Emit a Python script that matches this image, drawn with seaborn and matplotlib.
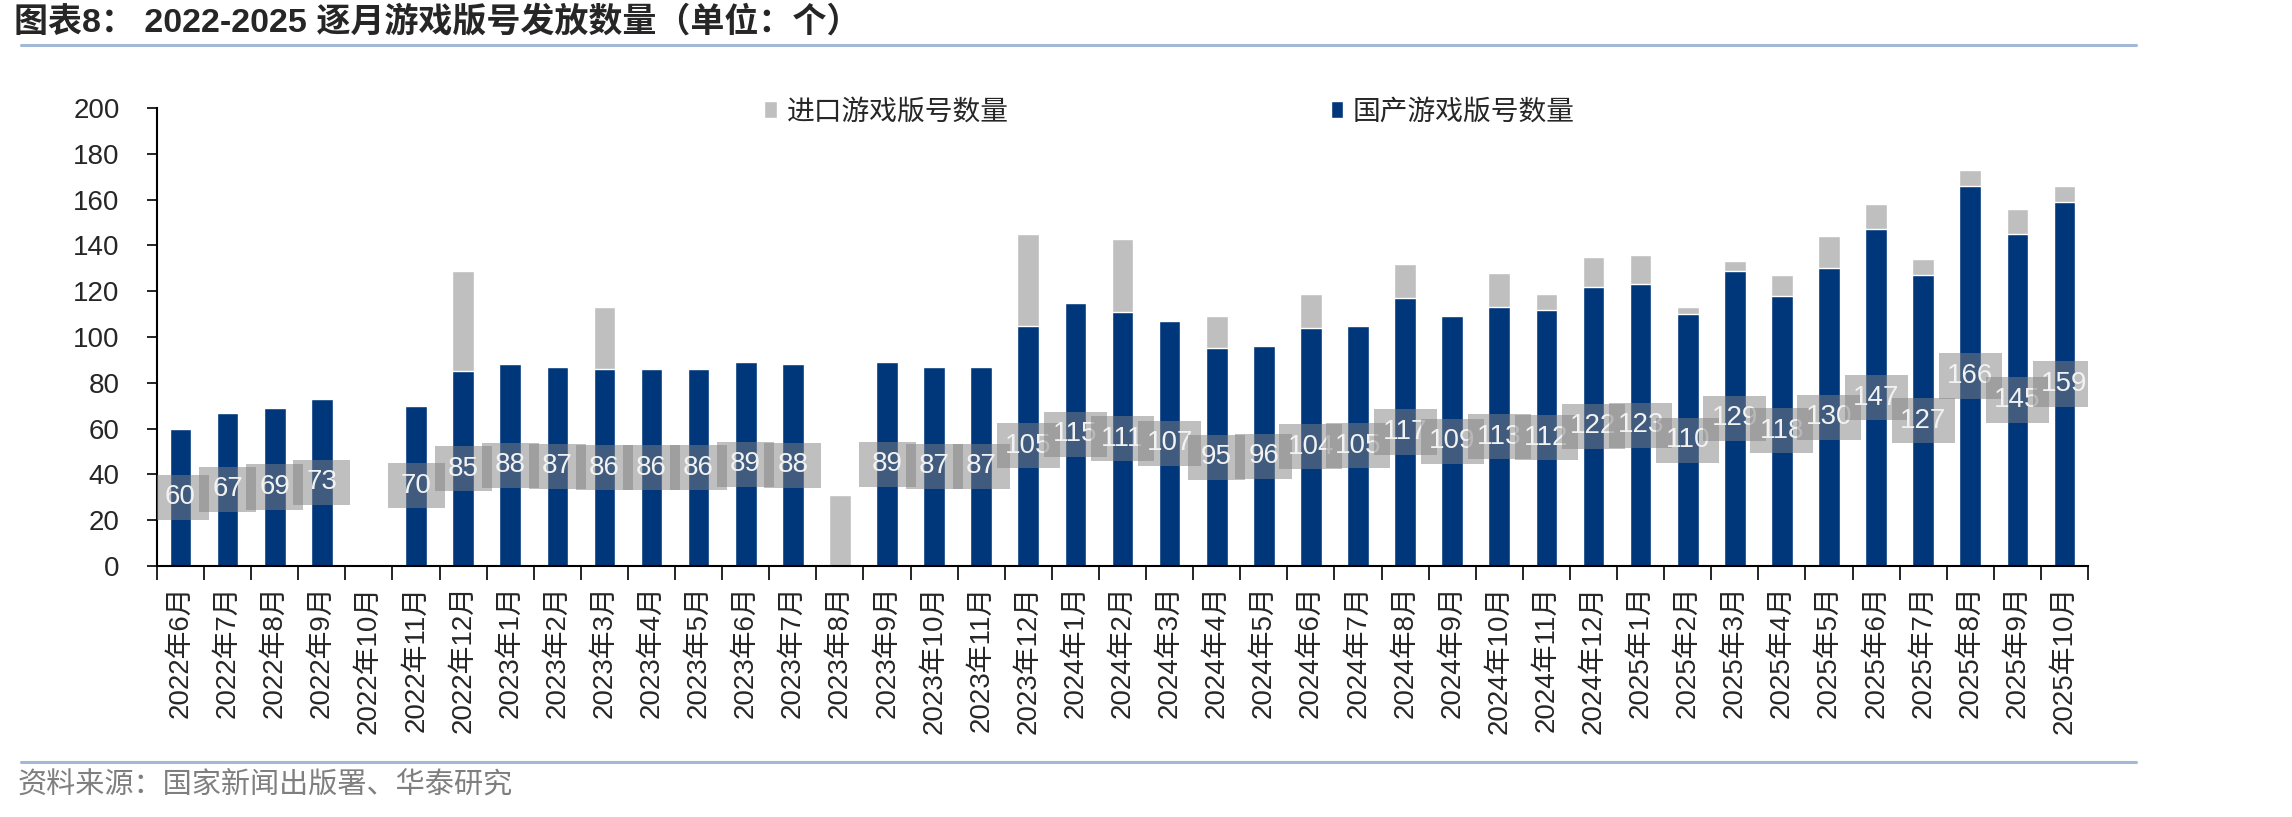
import numpy as np
import pandas as pd
import seaborn as sns
import matplotlib.pyplot as plt
from matplotlib.patches import Rectangle
from matplotlib.lines import Line2D

months = [
    "2022年6月", "2022年7月", "2022年8月", "2022年9月", "2022年10月", "2022年11月", "2022年12月",
    "2023年1月", "2023年2月", "2023年3月", "2023年4月", "2023年5月", "2023年6月",
    "2023年7月", "2023年8月", "2023年9月", "2023年10月", "2023年11月", "2023年12月",
    "2024年1月", "2024年2月", "2024年3月", "2024年4月", "2024年5月", "2024年6月",
    "2024年7月", "2024年8月", "2024年9月", "2024年10月", "2024年11月", "2024年12月",
    "2025年1月", "2025年2月", "2025年3月", "2025年4月", "2025年5月", "2025年6月",
    "2025年7月", "2025年8月", "2025年9月", "2025年10月",
]
domestic = [60, 67, 69, 73, 0, 70, 85,
            88, 87, 86, 86, 86, 89, 88, 0, 89, 87, 87, 105,
            115, 111, 107, 95, 96, 104, 105, 117, 109, 113, 112, 122,
            123, 110, 129, 118, 130, 147, 127, 166, 145, 159]
imported = [0, 0, 0, 0, 0, 0, 44,
            0, 0, 27, 0, 0, 0, 0, 31, 0, 0, 0, 40,
            0, 32, 0, 14, 0, 15, 0, 15, 0, 15, 7, 13,
            13, 3, 4, 9, 14, 11, 7, 7, 11, 7]

navy = "#00377A"
light_gray = "#BFBFBF"
rule_color = "#A3B8D6"

sns.set_style("white")
plt.rcParams["font.family"] = ["Liberation Sans", "Noto Sans CJK SC", "DejaVu Sans"]

df = pd.DataFrame({"month": months, "domestic": domestic, "imported": imported})
df["total"] = df["domestic"] + df["imported"]

fig = plt.figure(figsize=(22.92, 8.17), dpi=100)
ax = fig.add_axes([0.0685, 0.3072, 0.8425, 0.5606])

# stacked look: total in gray underneath, domestic in navy on top
sns.barplot(data=df, x="month", y="total", color=light_gray, width=0.46,
            saturation=1, errorbar=None, label="进口游戏版号数量", ax=ax)
sns.barplot(data=df, x="month", y="domestic", color=navy, width=0.46,
            saturation=1, errorbar=None, label="国产游戏版号数量", ax=ax)

n = len(months)
ax.set_xlim(-0.5, n - 0.5)
ax.set_ylim(0, 200)
ax.set_yticks(range(0, 201, 20))
ax.set_xlabel("")
ax.set_ylabel("")

ax.set_xticks(range(n))
ax.set_xticklabels(months, rotation=90, fontsize=20)
ax.set_xticks(np.arange(-0.5, n, 1), minor=True)
ax.tick_params(axis="x", which="major", bottom=True, length=0, pad=14)
ax.tick_params(axis="x", which="minor", bottom=True, length=10, width=1.2,
               direction="out", color="black")
ax.tick_params(axis="y", left=True, length=7, width=1.2, direction="out",
               color="black", pad=20, labelsize=20)

for side in ["top", "right"]:
    ax.spines[side].set_visible(False)
for side in ["left", "bottom"]:
    ax.spines[side].set_color("black")
    ax.spines[side].set_linewidth(1.5)

# data labels with semi-transparent boxes, centred in the navy bars
box_h = 19.7
for i, v in enumerate(domestic):
    if v == 0:
        continue
    w = 1.21 if v < 100 else 1.34
    ax.add_patch(Rectangle((i - w / 2, v / 2 - box_h / 2), w, box_h,
                           facecolor="#808080", edgecolor="none", alpha=0.5,
                           zorder=3 + 2 * i))
    ax.text(i, v / 2, str(v), ha="center", va="center", fontsize=20,
            color="#F2F2F2", zorder=4 + 2 * i)

ax.legend(loc="center left", bbox_to_anchor=(0.3145, 0.99), ncol=2,
          frameon=False, fontsize=20, handlelength=0.45, handleheight=0.55,
          handletextpad=0.35, columnspacing=11.6, borderpad=0, borderaxespad=0)

fig.text(14 / 2292, 1 - 22 / 817, "图表8： 2022-2025 逐月游戏版号发放数量（单位：个）",
         fontsize=24.5, fontweight="bold", ha="left", va="center")
fig.add_artist(Line2D([21 / 2292, 2136 / 2292], [1 - 45 / 817] * 2,
                      color=rule_color, lw=2.2))
fig.add_artist(Line2D([21 / 2292, 2136 / 2292], [1 - 762 / 817] * 2,
                      color=rule_color, lw=2.2))
fig.text(18 / 2292, 1 - 785 / 817, "资料来源：国家新闻出版署、华泰研究",
         fontsize=21, color="#7F7F7F", ha="left", va="center")

fig.savefig("out.png", dpi=100)
